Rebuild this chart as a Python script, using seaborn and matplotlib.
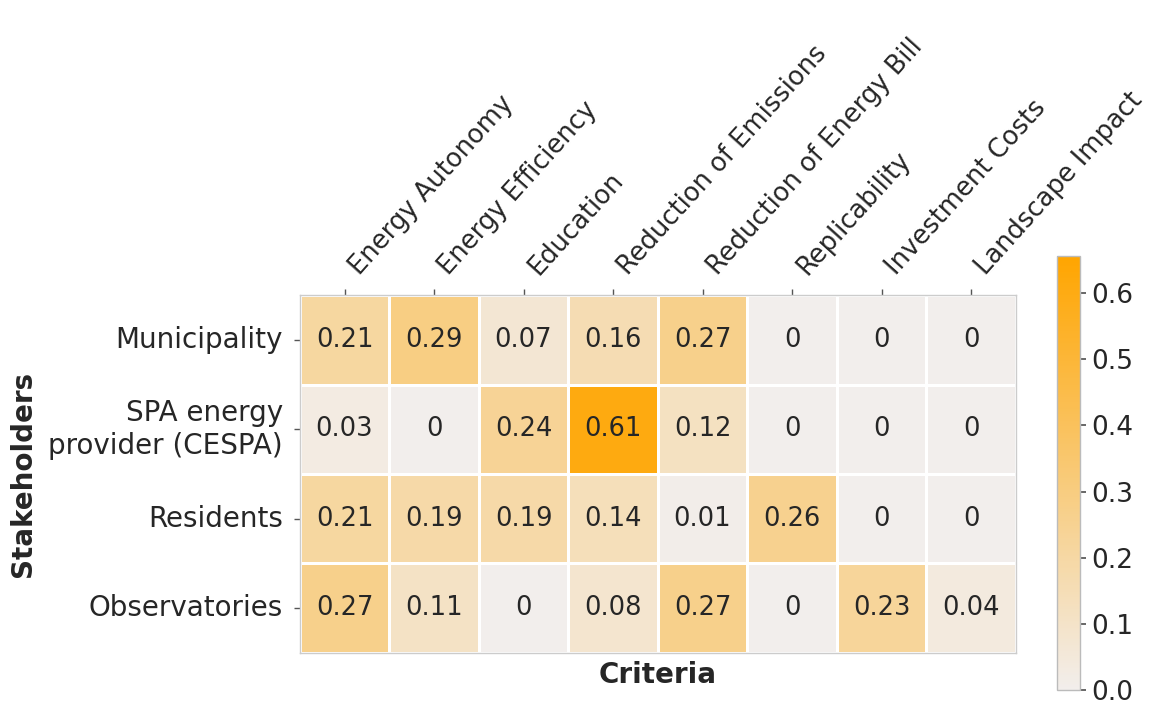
import numpy as np
import pandas as pd
import matplotlib
matplotlib.use("Agg")
import matplotlib.pyplot as plt
import seaborn as sns
from matplotlib.colors import LinearSegmentedColormap

stakeholders = ["Municipality", "SPA energy\nprovider (CESPA)", "Residents", "Observatories"]
criteria = ["Energy Autonomy", "Energy Efficiency", "Education", "Reduction of Emissions",
            "Reduction of Energy Bill", "Replicability", "Investment Costs", "Landscape Impact"]

municipality = [0.21, 0.29, 0.07, 0.16, 0.27, 0, 0, 0]
cespa = [0.03, 0, 0.24, 0.61, 0.12, 0, 0, 0]
residents = [0.21, 0.19, 0.19, 0.14, 0.01, 0.26, 0, 0]
observatories = [0.27, 0.11, 0, 0.08, 0.27, 0, 0.23, 0.04]

df = pd.DataFrame([municipality, cespa, residents, observatories],
                  index=stakeholders, columns=criteria)

sns.set_theme(style="ticks")
plt.rcParams["font.family"] = ["DejaVu Sans"]

cmap = LinearSegmentedColormap.from_list("grey_orange", ["#f2eeec", "#ffa500"])

fig = plt.figure(figsize=(11.53, 7.08), dpi=100)
ax = fig.add_axes([0.260, 0.078, 0.621, 0.505])
cax = fig.add_axes([0.917, 0.025, 0.020, 0.613])

sns.heatmap(df, ax=ax, cbar_ax=cax, cmap=cmap, vmin=0, vmax=0.655,
            annot=True, fmt="g", annot_kws={"size": 18.5},
            linewidths=1, linecolor="white")

ax.xaxis.tick_top()
ax.xaxis.set_label_position("bottom")
ax.set_xticklabels(criteria, rotation=48, ha="left", fontsize=18.5)
ax.set_yticklabels(stakeholders, rotation=0, fontsize=20)
ax.tick_params(axis="x", length=4, width=1, color="#555555", pad=7)
ax.tick_params(axis="y", length=4, width=1, color="#555555", pad=8)
ax.set_xlabel("Criteria", fontsize=20, fontweight="bold", labelpad=6)
ax.set_ylabel("Stakeholders", fontsize=20, fontweight="bold", labelpad=8)
for s in ax.spines.values():
    s.set_visible(True)
    s.set_color("#cccccc")
    s.set_linewidth(1)

cbar = ax.collections[0].colorbar
cbar.set_ticks([0, 0.1, 0.2, 0.3, 0.4, 0.5, 0.6])
cax.tick_params(labelsize=19, length=4, color="#555555", pad=4)
cbar.outline.set_edgecolor("#bbbbbb")
cbar.outline.set_linewidth(1)

fig.savefig("out.png", dpi=100)
